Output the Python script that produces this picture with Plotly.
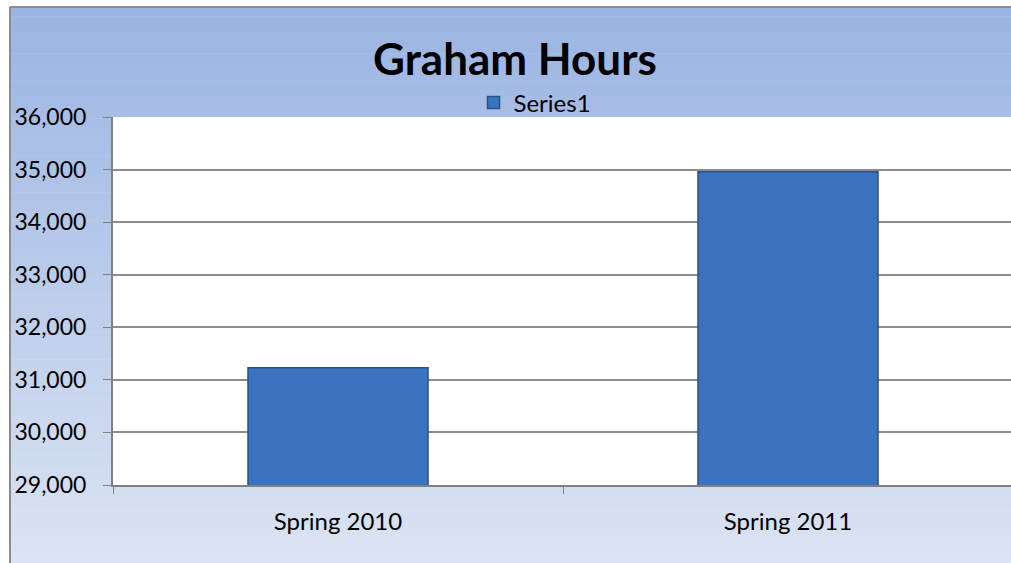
import plotly.graph_objects as go

categories = ["Spring 2010", "Spring 2011"]
hours = [31230, 34960]
y_ticks = [29000, 30000, 31000, 32000, 33000, 34000, 35000, 36000]
y_tick_labels = ["29,000", "30,000", "31,000", "32,000", "33,000", "34,000", "35,000", "36,000"]

W, H = 1011, 563
L, T, B, R = 113, 117, 78, 0
PW, PH = W - L - R, H - T - B

def px_x(px):
    return (px - L) / PW

def px_y(py):
    return (H - B - py) / PH

FONT = "Lato"

fig = go.Figure()
fig.add_trace(go.Bar(
    x=categories, y=hours, name="Series1", width=0.4,
    marker=dict(color="#3A74C0", line=dict(color="#2A5086", width=1.5)),
))

shapes = []
# background gradient in strips
top_c = (154, 180, 226)
bot_c = (220, 228, 243)
y0, y1 = 7, H
n = 60
for i in range(n):
    a = y0 + (y1 - y0) * i / n
    b = y0 + (y1 - y0) * (i + 1) / n + 0.5
    t = (i + 0.5) / n
    c = tuple(round(top_c[k] + (bot_c[k] - top_c[k]) * t) for k in range(3))
    shapes.append(dict(type="rect", xref="paper", yref="paper", layer="below",
                       x0=px_x(10), x1=px_x(W + 5), y0=px_y(b), y1=px_y(a),
                       line=dict(width=0), fillcolor="rgb(%d,%d,%d)" % c))
# plot area white
shapes.append(dict(type="rect", xref="paper", yref="paper", layer="below",
                   x0=0, x1=1.01, y0=0, y1=1, line=dict(width=0), fillcolor="white"))
# outer border
shapes.append(dict(type="line", xref="paper", yref="paper", layer="above",
                   x0=px_x(10), x1=px_x(10), y0=px_y(7), y1=px_y(H + 5),
                   line=dict(color="#8C8C8C", width=2)))
shapes.append(dict(type="line", xref="paper", yref="paper", layer="above",
                   x0=px_x(10), x1=px_x(W + 5), y0=px_y(7), y1=px_y(7),
                   line=dict(color="#8C8C8C", width=2)))

fig.update_layout(
    width=W, height=H,
    margin=dict(l=L, r=R, t=T, b=B),
    paper_bgcolor="white", plot_bgcolor="rgba(0,0,0,0)",
    shapes=shapes,
    title=dict(text="<b>Graham Hours</b>", x=515 / W, xref="container", xanchor="center",
               y=1 - 60 / H, yref="container", yanchor="middle",
               font=dict(family=FONT, size=44, color="black")),
    showlegend=True,
    legend=dict(orientation="h", x=px_x(535), xanchor="center", y=px_y(103), yanchor="middle",
                bgcolor="rgba(0,0,0,0)", font=dict(family=FONT, size=24, color="black"),
                itemwidth=30),
    bargap=0.6,
    font=dict(family=FONT, color="black"),
)
fig.update_xaxes(
    range=[-0.5, -0.5 + 2 * PW / 900], tickson="boundaries", ticks="outside", ticklen=7,
    tickcolor="#808080", showline=True, linecolor="#808080", linewidth=2,
    showgrid=False, tickfont=dict(family=FONT, size=24, color="black"),
    ticklabelstandoff=14, fixedrange=True,
)
fig.update_yaxes(
    range=[29000, 36000], tickvals=y_ticks, ticktext=y_tick_labels,
    ticks="outside", ticklen=8, tickcolor="#808080",
    showline=True, linecolor="#808080", linewidth=2,
    showgrid=True, gridcolor="#8C8C8C", gridwidth=1.5,
    tickfont=dict(family=FONT, size=23, color="black"), ticklabelstandoff=12,
    zeroline=False, fixedrange=True,
)

fig.write_html("out.html", config={"displayModeBar": False},
               post_script="document.body.style.margin='0';")
